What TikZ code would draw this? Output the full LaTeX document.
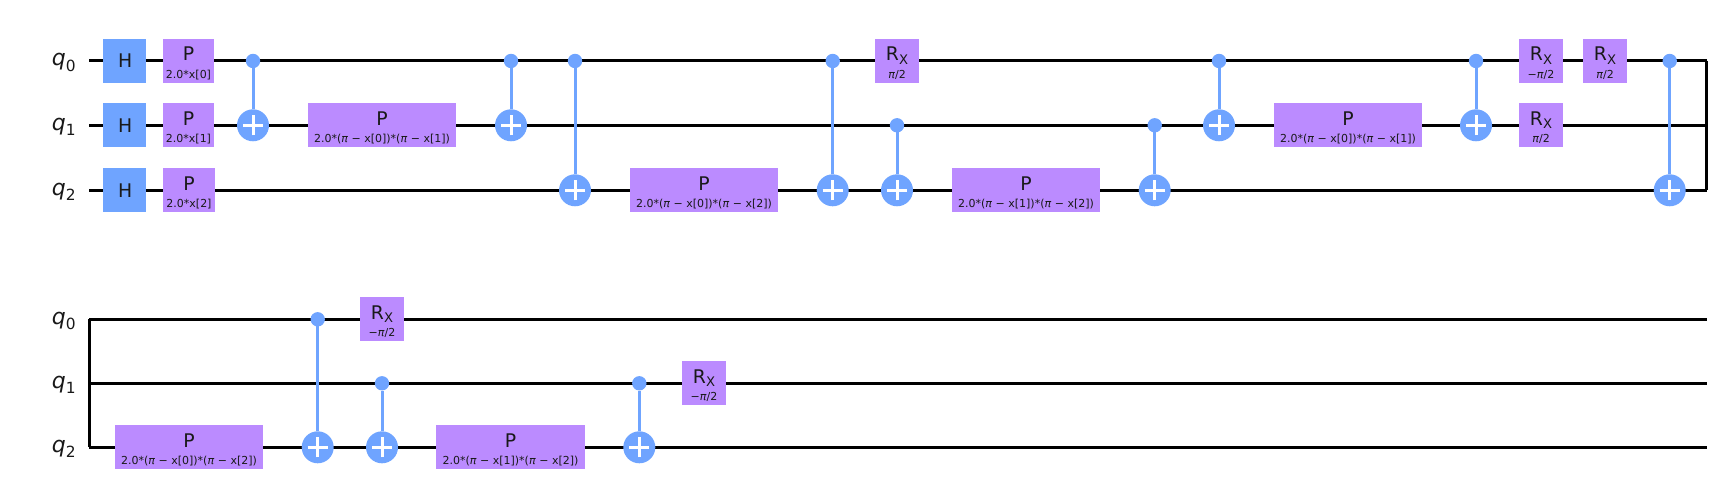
\documentclass[tikz,border=0pt]{standalone}
\usepackage{fontspec}
\setmainfont{DejaVu Sans}
\definecolor{gateblue}{HTML}{6FA4FF}
\definecolor{gatepurple}{HTML}{BB8BFF}
\tikzset{
  x=0.5pt,y=-0.5pt,
  wire/.style={draw=black,line width=1.5pt},
  gatebox/.style={rectangle,draw=none,inner sep=0pt,outer sep=0pt},
  mainlabel/.style={anchor=base,inner sep=0pt,font=\fontsize{9.4}{9.4}\selectfont,text=black!90},
  sublabel/.style={anchor=base,inner sep=0pt,font=\fontsize{5.5}{5.5}\selectfont,text=black!90},
  qlabel/.style={anchor=base east,inner sep=0pt,font=\fontsize{11}{11}\selectfont,text=black!90},
  ctrldot/.style={circle,fill=gateblue,draw=none,inner sep=0pt,outer sep=0pt,minimum size=7.2pt},
  targetdot/.style={circle,fill=gateblue,draw=none,inner sep=0pt,outer sep=0pt,minimum size=16pt,
    path picture={\draw[white,line width=1.5pt] (-5pt,0pt)--(5pt,0pt) (0pt,-5pt)--(0pt,5pt);}},
  link/.style={draw=gateblue,line width=1.5pt},
}
% name, left, right, centre y, fill, main text, sub text
\newcommand{\gatep}[7]{%
  \pgfmathsetmacro{\gw}{(#3-#2)*0.5}%
  \pgfmathsetmacro{\gx}{(#2+#3)/2}%
  \node[gatebox,fill=#5,minimum width=\gw pt,minimum height=22pt] (#1) at (\gx,#4) {};
  \node[mainlabel] (#1m) at ([yshift=0pt]\gx,#4) {#6};
  \node[sublabel] (#1s) at (\gx,#4+17.5) {#7};
}
\newcommand{\gateh}[3]{%
  \node[gatebox,fill=gateblue,minimum width=21.5pt,minimum height=22pt] (#1) at (124.7,#2) {};
  \node[mainlabel] (#1m) at (125.3,#2+6.8) {#3};
}
% name, x, control y, target y
\newcommand{\cnot}[4]{%
  \node[ctrldot] (#1c) at (#2,#3) {};
  \node[targetdot] (#1t) at (#2,#4) {};
  \draw[link] (#1c) -- (#1t);
}
\newcommand{\Rx}{R\raisebox{-0.18em}{\fontsize{6.6}{6.6}\selectfont X}}
\newcommand{\pii}{\textit{π}}
\newcommand{\pa}[2]{2.0*(\pii{} − x[#1])*(\pii{} − x[#2])}
\newcommand{\qq}[1]{\textit{q}\raisebox{-0.25em}{\fontsize{7.7}{7.7}\selectfont #1}}
\begin{document}
\begin{tikzpicture}
\useasboundingbox (0,0) rectangle (1722,496);
% row 1 wires
\foreach \n/\y in {a/61,b/125.3,c/190.3}{
  \coordinate (\n L) at (89,\y);
  \coordinate (\n R) at (1707,\y);
  \draw[wire] (\n L) -- (\n R);
}
\coordinate (barTop) at (1706,61);
\coordinate (barBot) at (1706,190.3);
\draw[wire] (barTop) -- (barBot);
% row 2 wires
\foreach \n/\y in {d/319.3,e/383.3,f/447.3}{
  \coordinate (\n L) at (89,\y);
  \coordinate (\n R) at (1707,\y);
  \draw[wire] (\n L) -- (\n R);
}
\coordinate (barTopB) at (89,319.3);
\coordinate (barBotB) at (89,447.3);
\draw[wire] (barTopB) -- (barBotB);
% qubit labels
\node[qlabel] (la) at (76,66) {\qq{0}};
\node[qlabel] (lb) at (76,130.3) {\qq{1}};
\node[qlabel] (lc) at (76,195.3) {\qq{2}};
\node[qlabel] (ld) at (76,324.3) {\qq{0}};
\node[qlabel] (le) at (76,388.3) {\qq{1}};
\node[qlabel] (lf) at (76,452.3) {\qq{2}};
% row 1 gates
\gateh{h0}{61}{H}
\gateh{h1}{125.3}{H}
\gateh{h2}{190.3}{H}
\gatep{p0}{163}{214}{61}{gatepurple}{P}{2.0*x[0]}
\gatep{p1}{163}{214}{125.3}{gatepurple}{P}{2.0*x[1]}
\gatep{p2}{163}{215}{190.3}{gatepurple}{P}{2.0*x[2]}
\cnot{c1}{253}{61}{125.3}
\gatep{p3}{308}{456}{125.3}{gatepurple}{P}{\pa{0}{1}}
\cnot{c2}{511}{61}{125.3}
\cnot{c3}{575}{61}{190.3}
\gatep{p4}{630}{778}{190.3}{gatepurple}{P}{\pa{0}{2}}
\cnot{c4}{832.7}{61}{190.3}
\gatep{r1}{875}{919}{61}{gatepurple}{\Rx}{\pii/2}
\cnot{c5}{897}{125.3}{190.3}
\gatep{p5}{952}{1100}{190.3}{gatepurple}{P}{\pa{1}{2}}
\cnot{c6}{1154.7}{125.3}{190.3}
\cnot{c7}{1219}{61}{125.3}
\gatep{p6}{1274}{1422}{125.3}{gatepurple}{P}{\pa{0}{1}}
\cnot{c8}{1476}{61}{125.3}
\gatep{r2}{1519}{1563}{61}{gatepurple}{\Rx}{−\pii/2}
\gatep{r3}{1519}{1563}{125.3}{gatepurple}{\Rx}{\pii/2}
\gatep{r4}{1583}{1627}{61}{gatepurple}{\Rx}{\pii/2}
\cnot{c9}{1669.7}{61}{190.3}
% row 2 gates
\gatep{p7}{115}{263}{447.3}{gatepurple}{P}{\pa{0}{2}}
\cnot{d1}{317.7}{319.3}{447.3}
\gatep{r5}{360}{404}{319.3}{gatepurple}{\Rx}{−\pii/2}
\cnot{d2}{382}{383.3}{447.3}
\gatep{p8}{436}{585}{447.3}{gatepurple}{P}{\pa{1}{2}}
\cnot{d3}{639.3}{383.3}{447.3}
\gatep{r6}{682}{726}{383.3}{gatepurple}{\Rx}{−\pii/2}
\end{tikzpicture}
\end{document}
